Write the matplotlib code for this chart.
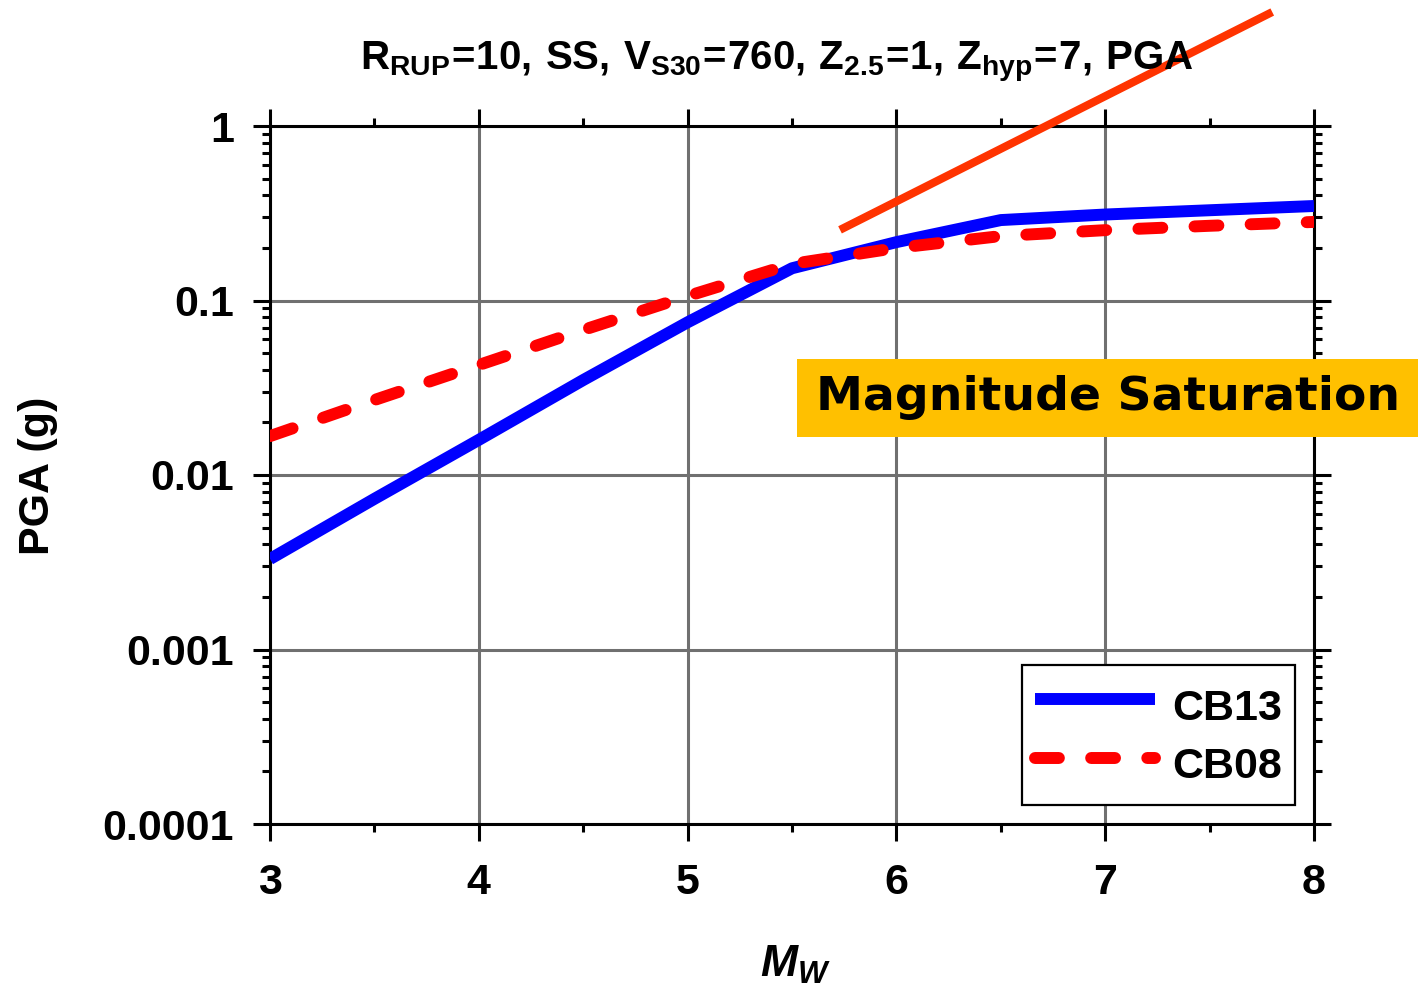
import matplotlib
matplotlib.use("Agg")
import matplotlib.pyplot as plt
from matplotlib.patches import Rectangle
from matplotlib.ticker import FixedLocator, LogLocator, NullFormatter, FixedFormatter

plt.rcParams['font.family'] = ['Liberation Sans', 'DejaVu Sans']
plt.rcParams['font.weight'] = 'bold'
plt.rcParams['mathtext.fontset'] = 'custom'
plt.rcParams['mathtext.rm'] = 'Liberation Sans:bold'
plt.rcParams['mathtext.bf'] = 'Liberation Sans:bold'
plt.rcParams['mathtext.it'] = 'Liberation Sans:bold:italic'

# Data
mw = [3.0, 3.5, 4.0, 4.5, 5.0, 5.5, 6.0, 6.5, 7.0, 7.5, 8.0]
cb13 = [0.0033, 0.0073, 0.0159, 0.035, 0.075, 0.153, 0.216, 0.289, 0.311, 0.329, 0.348]
cb08 = [0.0167, 0.0269, 0.0427, 0.0678, 0.106, 0.162, 0.200, 0.234, 0.253, 0.268, 0.282]
sat_x = [5.73, 7.80]
sat_y = [0.254, 4.5]

x_ticks = [3, 4, 5, 6, 7, 8]
y_ticks = [1e-4, 1e-3, 1e-2, 1e-1, 1]
y_labels = ["0.0001", "0.001", "0.01", "0.1", "1"]

fig = plt.figure(figsize=(14.18, 9.91), dpi=100)
ax = fig.add_axes([270/1418, 1-824/991, (1314-270)/1418, (824-126)/991])

ax.plot(mw, cb13, color='#0000FF', lw=8.6, solid_capstyle='butt', label='CB13', zorder=4)
ax.plot(mw, cb08, color='#FF0000', lw=8.6, ls=(0, (2.0, 2.7)), dash_capstyle='round',
        label='CB08', zorder=5)
ax.plot(sat_x, sat_y, color='#FF3300', lw=5.8, clip_on=False, zorder=6, solid_capstyle='butt')

ax.set_yscale('log')
ax.set_xlim(3, 8)
ax.set_ylim(1e-4, 1)

ax.xaxis.set_major_locator(FixedLocator(x_ticks))
ax.xaxis.set_minor_locator(FixedLocator([3.5, 4.5, 5.5, 6.5, 7.5]))
ax.set_xticklabels([str(t) for t in x_ticks])
ax.yaxis.set_major_locator(FixedLocator(y_ticks))
ax.yaxis.set_major_formatter(FixedFormatter(y_labels))
ax.yaxis.set_minor_locator(LogLocator(base=10, subs=range(2, 10), numticks=20))
ax.yaxis.set_minor_formatter(NullFormatter())

ax.tick_params(which='major', direction='out', length=12, width=2.2, labelsize=31,
               top=True, right=True, labeltop=False, labelright=False, colors='black')
ax.tick_params(which='minor', direction='out', length=6, width=2.2, top=True, right=True)
ax.tick_params(axis='x', which='major', pad=16)
ax.tick_params(axis='y', which='major', pad=14)
for lbl in ax.get_xticklabels() + ax.get_yticklabels():
    lbl.set_fontweight('bold')

ax.grid(True, which='major', color='#707070', lw=2.2, zorder=1)
for s in ax.spines.values():
    s.set_linewidth(2.2)
    s.set_zorder(3)

fig.text(777/1418, 1-62/991,
         r"$\mathbf{R_{RUP}\!=\!10,\,SS,\,V_{S30}\!=\!760,\,Z_{2.5}\!=\!1,\,Z_{hyp}\!=\!7,\,PGA}$",
         ha='center', va='center', fontsize=29)
fig.text(38/1418, 1-476/991, "PGA (g)", rotation=90, ha='center', va='center',
         fontsize=31, fontweight='bold')
fig.text(795/1418, 1-965/991, r"$\mathit{M_W}$", ha='center', va='center', fontsize=32)

fig.patches.append(Rectangle((797/1418, 1-437/991), (1418-797)/1418, 78/991,
                             transform=fig.transFigure, facecolor='#FFC000',
                             edgecolor='none', zorder=7))
fig.text(1108/1418, 1-398/991, "Magnitude Saturation", ha='center', va='center',
         fontsize=34, fontweight='bold', family=['DejaVu Sans'], zorder=8)

leg = ax.legend(loc='upper left', bbox_to_anchor=(1022/1418, 1-665/991),
                bbox_transform=fig.transFigure, fontsize=31, frameon=True, fancybox=False,
                edgecolor='black', handlelength=2.8, handleheight=1.6, handletextpad=0.4,
                borderpad=0.3, labelspacing=0.08, borderaxespad=0)
leg.get_frame().set_linewidth(1.6)
leg.get_frame().set_alpha(1)
for t in leg.get_texts():
    t.set_fontweight('bold')
leg.set_zorder(10)

fig.savefig("out.png", dpi=100)
